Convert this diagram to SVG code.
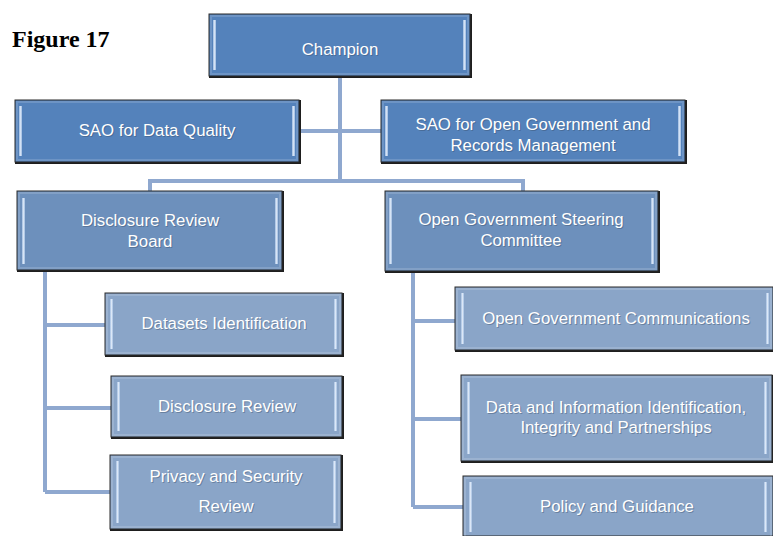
<svg xmlns="http://www.w3.org/2000/svg" width="773" height="536" viewBox="0 0 773 536">
<defs>
<style>
.lbl{font-family:"Liberation Sans","Noto Sans",Arial,sans-serif;font-size:16.8px;fill:#ffffff;text-anchor:middle;}
.sh{font-family:"Liberation Sans","Noto Sans",Arial,sans-serif;font-size:16.8px;fill:#3a4d66;text-anchor:middle;opacity:0.4;}
.edge{fill:none;stroke:#8fa8cf;stroke-width:4;}
.frame{fill:#1e1e1e;}
.b1{fill:#5482bb;stroke:#2a2a2a;stroke-width:1;}
.b2{fill:#6d90bc;stroke:#2a2a2a;stroke-width:1;}
.b3{fill:#8aa5c8;stroke:#2a2a2a;stroke-width:1;}
.bev{fill:url(#bev);opacity:0.85;}
.rim{fill:none;stroke:#ffffff;stroke-opacity:0.15;stroke-width:2;}
</style>
<linearGradient id="bev" x1="0" y1="0" x2="1" y2="0">
<stop offset="0" stop-color="#a9c4e6"/>
<stop offset="0.5" stop-color="#eaf3ff"/>
<stop offset="1" stop-color="#a9c4e6"/>
</linearGradient>
</defs>

<text x="12" y="47" font-family="'Liberation Serif','Times New Roman',serif" font-weight="bold" font-size="24" fill="#000">Figure 17</text>

<g id="connectors">
<path class="edge" d="M340 77 V181"/>
<path class="edge" d="M300 131 H381"/>
<path class="edge" d="M150 191 V181 H523 V191"/>
<path class="edge" d="M45 271 V492 M45 325 H105 M45 408 H111 M45 492 H110"/>
<path class="edge" d="M413 272 V507 M413 321 H455 M413 419 H461 M413 507 H463"/>
</g>

<g id="champion">
<rect class="frame" x="209" y="14" width="263" height="64"/>
<rect class="b1" x="209" y="14" width="261" height="62"/>
<rect class="rim" x="211" y="16" width="257" height="58"/>
<rect class="bev" x="213" y="20" width="3" height="50"/>
<rect class="bev" x="463" y="20" width="3" height="50"/>
<text class="sh" x="341" y="56">Champion</text>
<text class="lbl" x="340" y="55">Champion</text>
</g>

<g id="sao-dq">
<rect class="frame" x="15" y="100" width="286" height="64"/>
<rect class="b1" x="15" y="100" width="284" height="62"/>
<rect class="rim" x="17" y="102" width="280" height="58"/>
<rect class="bev" x="19" y="106" width="3" height="50"/>
<rect class="bev" x="292" y="106" width="3" height="50"/>
<text class="sh" x="158" y="137">SAO for Data Quality</text>
<text class="lbl" x="157" y="136">SAO for Data Quality</text>
</g>

<g id="sao-og">
<rect class="frame" x="381" y="100" width="306" height="64"/>
<rect class="b1" x="381" y="100" width="304" height="62"/>
<rect class="rim" x="383" y="102" width="300" height="58"/>
<rect class="bev" x="385" y="106" width="3" height="50"/>
<rect class="bev" x="678" y="106" width="3" height="50"/>
<text class="sh" x="534" y="131">SAO for Open Government and</text>
<text class="lbl" x="533" y="130">SAO for Open Government and</text>
<text class="sh" x="534" y="152">Records Management</text>
<text class="lbl" x="533" y="151">Records Management</text>
</g>

<g id="drb">
<rect class="frame" x="17" y="191" width="267" height="81"/>
<rect class="b2" x="17" y="191" width="265" height="79"/>
<rect class="rim" x="19" y="193" width="261" height="75"/>
<rect class="bev" x="22" y="198" width="3" height="66"/>
<rect class="bev" x="275" y="198" width="3" height="66"/>
<text class="sh" x="151" y="227">Disclosure Review</text>
<text class="lbl" x="150" y="226">Disclosure Review</text>
<text class="sh" x="151" y="248">Board</text>
<text class="lbl" x="150" y="247">Board</text>
</g>

<g id="ogsc">
<rect class="frame" x="385" y="191" width="275" height="82"/>
<rect class="b2" x="385" y="191" width="273" height="80"/>
<rect class="rim" x="387" y="193" width="269" height="76"/>
<rect class="bev" x="389" y="198" width="3" height="66"/>
<rect class="bev" x="651" y="198" width="3" height="66"/>
<text class="sh" x="522" y="226">Open Government Steering</text>
<text class="lbl" x="521" y="225">Open Government Steering</text>
<text class="sh" x="522" y="247">Committee</text>
<text class="lbl" x="521" y="246">Committee</text>
</g>

<g id="datasets">
<rect class="frame" x="105" y="293" width="239" height="64"/>
<rect class="b3" x="105" y="293" width="237" height="62"/>
<rect class="rim" x="107" y="295" width="233" height="58"/>
<rect class="bev" x="110" y="299" width="3" height="50"/>
<rect class="bev" x="334" y="299" width="3" height="50"/>
<text class="sh" x="225" y="330">Datasets Identification</text>
<text class="lbl" x="224" y="329">Datasets Identification</text>
</g>

<g id="disclosure">
<rect class="frame" x="111" y="376" width="233" height="63"/>
<rect class="b3" x="111" y="376" width="231" height="61"/>
<rect class="rim" x="113" y="378" width="227" height="57"/>
<rect class="bev" x="117" y="382" width="3" height="49"/>
<rect class="bev" x="334" y="382" width="3" height="49"/>
<text class="sh" x="228" y="413">Disclosure Review</text>
<text class="lbl" x="227" y="412">Disclosure Review</text>
</g>

<g id="privacy">
<rect class="frame" x="110" y="455" width="233" height="76"/>
<rect class="b3" x="110" y="455" width="231" height="74"/>
<rect class="rim" x="112" y="457" width="227" height="70"/>
<rect class="bev" x="116" y="461" width="3" height="62"/>
<rect class="bev" x="333" y="461" width="3" height="62"/>
<text class="sh" x="227" y="483">Privacy and Security</text>
<text class="lbl" x="226" y="482">Privacy and Security</text>
<text class="sh" x="227" y="513">Review</text>
<text class="lbl" x="226" y="512">Review</text>
</g>

<g id="ogcomm">
<rect class="frame" x="455" y="287" width="320" height="65"/>
<rect class="b3" x="455" y="287" width="318" height="63"/>
<rect class="rim" x="457" y="289" width="314" height="59"/>
<rect class="bev" x="461" y="293" width="3" height="51"/>
<rect class="bev" x="766" y="293" width="3" height="51"/>
<text class="sh" x="617" y="325">Open Government Communications</text>
<text class="lbl" x="616" y="324">Open Government Communications</text>
</g>

<g id="datainfo">
<rect class="frame" x="461" y="375" width="313" height="88"/>
<rect class="b3" x="461" y="375" width="311" height="86"/>
<rect class="rim" x="463" y="377" width="307" height="82"/>
<rect class="bev" x="467" y="382" width="3" height="72"/>
<rect class="bev" x="764" y="382" width="3" height="72"/>
<text class="sh" x="617" y="414">Data and Information Identification,</text>
<text class="lbl" x="616" y="413">Data and Information Identification,</text>
<text class="sh" x="617" y="434">Integrity and Partnerships</text>
<text class="lbl" x="616" y="433">Integrity and Partnerships</text>
</g>

<g id="policy">
<rect class="frame" x="463" y="476" width="312" height="62"/>
<rect class="b3" x="463" y="476" width="310" height="60"/>
<rect class="rim" x="465" y="478" width="306" height="60"/>
<rect class="bev" x="469" y="482" width="3" height="50"/>
<rect class="bev" x="764" y="482" width="3" height="50"/>
<text class="sh" x="618" y="513">Policy and Guidance</text>
<text class="lbl" x="617" y="512">Policy and Guidance</text>
</g>
</svg>
